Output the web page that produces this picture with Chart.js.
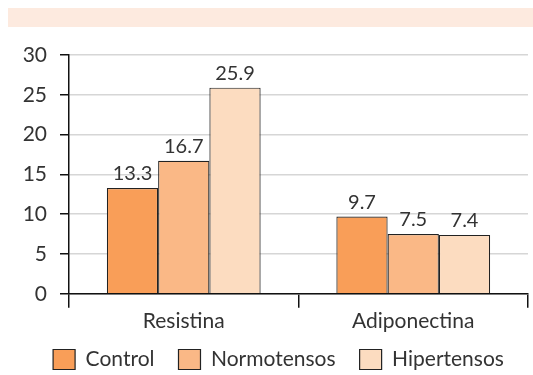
<!DOCTYPE html>
<html>
<head>
<meta charset="utf-8">
<script src="https://cdn.jsdelivr.net/npm/chart.js@4"></script>
<style>
  html, body { margin: 0; padding: 0; background: #fff; }
  #wrap { width: 533px; height: 375px; }
</style>
</head>
<body>
<div id="wrap"><canvas id="barChart" width="533" height="375"></canvas></div>
<script>
// datos del grafico
var categorias = ["Resistina", "Adiponectina"];
var grupos = ["Control", "Normotensos", "Hipertensos"];
var control = [13.3, 9.7];
var normotensos = [16.7, 7.5];
var hipertensos = [25.9, 7.4];
var colores = ["#F99E58", "#FAB886", "#FCDCC0"];

var fuente = "Lato, 'Open Sans', sans-serif";

// banda de color arriba
var bandaPlugin = {
  id: 'banda',
  beforeDraw: function (chart) {
    var ctx = chart.ctx;
    ctx.save();
    ctx.fillStyle = '#FDEADF';
    ctx.fillRect(8, 8, chart.width - 8, 19);
    ctx.restore();
  }
};

// mover la leyenda (el padding grande es para separar los items)
var leyendaPlugin = {
  id: 'leyendaPos',
  afterLayout: function (chart) {
    var lg = chart.legend;
    lg.top = 349 - lg.options.labels.padding;
    lg.left += 10;
    lg.right += 10;
  }
};

// valores encima de cada barra
var etiquetasPlugin = {
  id: 'etiquetas',
  afterDatasetsDraw: function (chart) {
    var ctx = chart.ctx;
    ctx.save();
    ctx.font = "20px " + fuente;
    ctx.fillStyle = '#333';
    ctx.textAlign = 'center';
    ctx.textBaseline = 'alphabetic';
    chart.data.datasets.forEach(function (ds, i) {
      chart.getDatasetMeta(i).data.forEach(function (bar, j) {
        ctx.fillText(ds.data[j].toFixed(1), bar.x, bar.y - 8);
      });
    });
    ctx.restore();
  }
};

var ctx = document.getElementById("barChart").getContext('2d');
var myBarChart = new Chart(ctx, {
  type: 'bar',
  data: {
    labels: categorias,
    datasets: [
      { label: grupos[0], data: control, backgroundColor: colores[0] },
      { label: grupos[1], data: normotensos, backgroundColor: colores[1] },
      { label: grupos[2], data: hipertensos, backgroundColor: colores[2] }
    ].map(function (d) {
      d.borderColor = '#222';
      d.borderWidth = 1.2;
      d.borderSkipped = 'bottom';
      d.categoryPercentage = 0.67;
      d.barPercentage = 1;
      return d;
    })
  },
  options: {
    responsive: false,
    animation: false,
    devicePixelRatio: 1,
    layout: { padding: { top: 55, right: 5, left: 9, bottom: 0 } },
    plugins: {
      tooltip: { enabled: false },
      legend: {
        position: 'bottom',
        maxHeight: 40,
        labels: {
          color: '#333',
          font: { family: fuente, size: 21 },
          boxWidth: 22,
          boxHeight: 20,
          padding: 24,
          generateLabels: function (chart) {
            return chart.data.datasets.map(function (ds, i) {
              return {
                text: ds.label,
                fillStyle: ds.backgroundColor,
                strokeStyle: '#222',
                lineWidth: 1.2,
                fontColor: '#333',
                datasetIndex: i
              };
            });
          }
        }
      }
    },
    scales: {
      x: {
        grid: {
          offset: true,
          drawOnChartArea: false,
          color: '#111',
          tickLength: 14,
          lineWidth: 1.5
        },
        border: { color: '#111', width: 1.5 },
        ticks: { color: '#333', font: { family: fuente, size: 21 }, padding: 1 }
      },
      y: {
        min: 0,
        max: 30,
        afterFit: function (scale) { scale.width = 60; },
        ticks: { stepSize: 5, color: '#333', font: { family: fuente, size: 21 }, padding: 13 },
        grid: { color: '#D6D6D6', lineWidth: 1.5, tickColor: '#111', tickLength: 9 },
        border: { color: '#111', width: 1.5 }
      }
    }
  },
  plugins: [bandaPlugin, leyendaPlugin, etiquetasPlugin]
});
</script>
</body>
</html>
